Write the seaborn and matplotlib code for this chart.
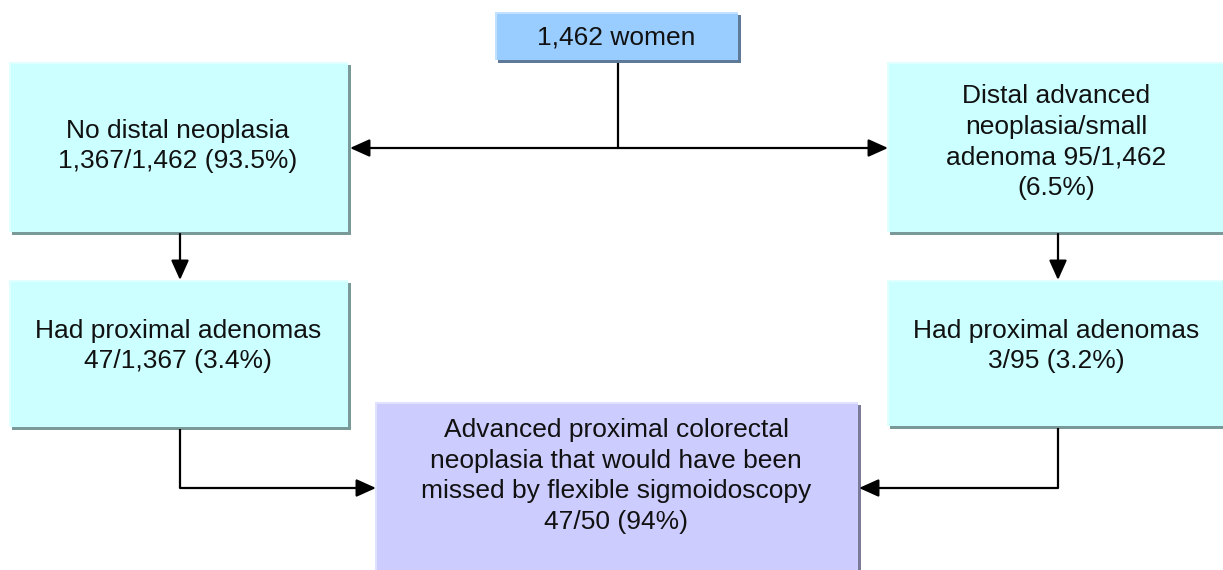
import matplotlib
matplotlib.use("Agg")
import matplotlib.pyplot as plt
from matplotlib.patches import Rectangle
import seaborn as sns

# ---- content ----
box_labels = [
    "1,462 women",
    "No distal neoplasia\n1,367/1,462 (93.5%)",
    "Distal advanced\nneoplasia/small\nadenoma 95/1,462\n(6.5%)",
    "Had proximal adenomas\n47/1,367 (3.4%)",
    "Had proximal adenomas\n3/95 (3.2%)",
    "Advanced proximal colorectal\nneoplasia that would have been\nmissed by flexible sigmoidoscopy\n47/50 (94%)",
]

# ---- layout (pixels, y downward) ----
boxes = [  # x0, y0, x1, y1
    (495, 12, 738, 60),
    (9, 62, 348, 232),
    (887, 62, 1226, 232),
    (9, 280, 348, 427),
    (887, 280, 1226, 426),
    (375, 402, 858, 575),
]
text_pos = [(616, 37), (178, 146), (1056, 142), (178, 346), (1056, 346), (616, 476)]
fills = ["#99CCFF", "#CCFFFF", "#CCFFFF", "#CCFFFF", "#CCFFFF", "#CCCCFF"]
shadows = ["#5F7A99", "#7A9999", "#7A9999", "#7A9999", "#7A9999", "#7A7A99"]
highlights = ["#C2E0FF", "#E0FFFF", "#E0FFFF", "#E0FFFF", "#E0FFFF", "#E0E0FF"]

sns.set_theme(style="white")
plt.rcParams["font.family"] = ["Liberation Sans", "DejaVu Sans"]

W, H = 1223, 570
fig = plt.figure(figsize=(W / 100, H / 100), dpi=100)
ax = fig.add_axes([0, 0, 1, 1])
ax.set_xlim(0, W)
ax.set_ylim(H, 0)
ax.axis("off")

for (x0, y0, x1, y1), fc, sc, hc, lab, (tx, ty) in zip(boxes, fills, shadows, highlights, box_labels, text_pos):
    ax.add_patch(Rectangle((x0 + 3, y0 + 3), x1 - x0, y1 - y0, facecolor=sc, edgecolor="none", zorder=1))
    ax.add_patch(Rectangle((x0, y0), x1 - x0, y1 - y0, facecolor=hc, edgecolor="none", zorder=2))
    ax.add_patch(Rectangle((x0 + 2, y0 + 2), x1 - x0 - 2, y1 - y0 - 2, facecolor=fc, edgecolor="none", zorder=3))
    ax.text(tx, ty, lab, ha="center", va="center", fontsize=19, color="#111111",
            linespacing=1.36, zorder=5)

lw = 1.6
def line(xs, ys):
    ax.plot(xs, ys, color="black", lw=lw, solid_capstyle="butt", solid_joinstyle="miter", zorder=4)

def arrow(x0, y0, x1, y1):
    ax.annotate("", xy=(x1, y1), xytext=(x0, y0),
                arrowprops=dict(arrowstyle="-|>,head_length=1.0,head_width=0.45", color="black",
                                lw=lw, shrinkA=0, shrinkB=0), zorder=4)

# top split
line([618, 618], [63, 148])
arrow(618, 148, 350, 148)
arrow(618, 148, 888, 148)
# down arrows
arrow(180, 234, 180, 280)
arrow(1058, 234, 1058, 280)
# to bottom box
line([180, 180], [429, 488])
arrow(180, 488, 376, 488)
line([1058, 1058], [428, 488])
arrow(1058, 488, 859, 488)

fig.savefig("out.png", dpi=100)
